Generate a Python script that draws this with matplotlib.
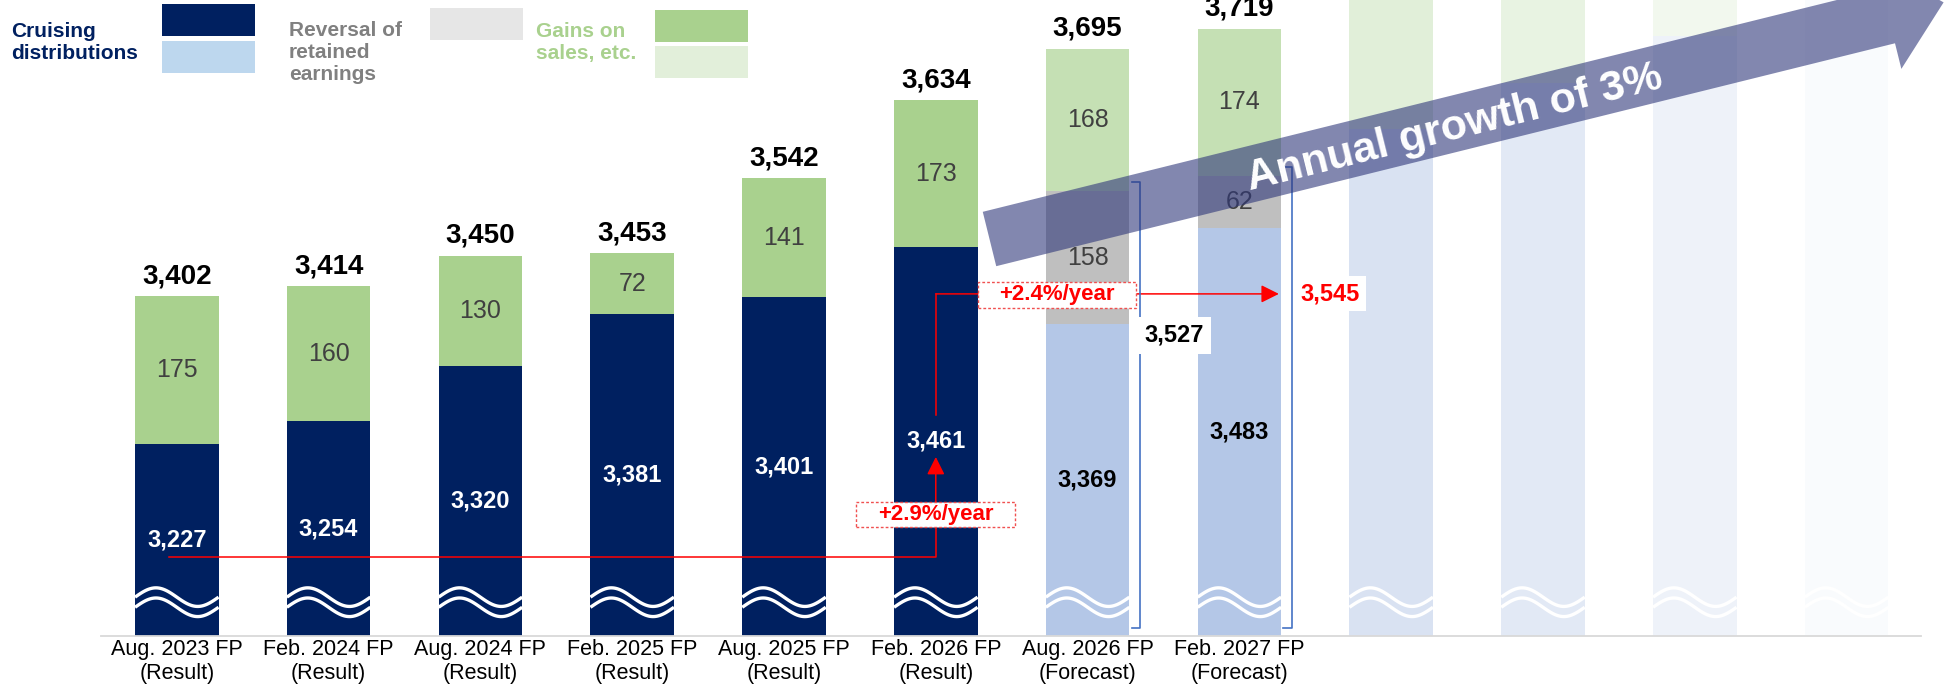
import matplotlib.pyplot as plt
import numpy as np
from matplotlib.patches import Polygon, Rectangle

plt.rcParams["font.family"] = ["Liberation Sans", "DejaVu Sans"]

periods = [
    "Aug. 2023 FP\n(Result)",
    "Feb. 2024 FP\n(Result)",
    "Aug. 2024 FP\n(Result)",
    "Feb. 2025 FP\n(Result)",
    "Aug. 2025 FP\n(Result)",
    "Feb. 2026 FP\n(Result)",
    "Aug. 2026 FP\n(Forecast)",
    "Feb. 2027 FP\n(Forecast)",
]
cruising = [3227, 3254, 3320, 3381, 3401, 3461, 3369, 3483]
reversal = [0, 0, 0, 0, 0, 0, 158, 62]
gains = [175, 160, 130, 72, 141, 173, 168, 174]
totals = [3402, 3414, 3450, 3453, 3542, 3634, 3695, 3719]
is_forecast = [False] * 6 + [True] * 2

# faded "future" bars on the right
future_base = [3600, 3655, 3710, 3765]
future_top = [3900, 3900, 3900, 3900]
future_alpha = [0.5, 0.38, 0.22, 0.07]

BASE = 3000
NAVY = "#002060"
GREEN = "#A9D18E"
LBLUE = "#B4C7E7"
LGREEN = "#C5E0B4"
GRAY = "#BFBFBF"
W, H = 1945, 699
PX = 0.8447  # pixels per unit on the y axis

fig = plt.figure(figsize=(W / 100, H / 100), dpi=100)
ax = fig.add_axes([0, 63 / H, 1, 636 / H])
ax.set_xlim(-176.8 / 151.8, (W - 176.8) / 151.8)
ax.set_ylim(BASE, BASE + 636 / PX)
for s in ax.spines.values():
    s.set_visible(False)
ax.set_yticks([])

bw = 0.55
x = np.arange(len(periods))
cru = np.array(cruising)
rev = np.array(reversal)
gai = np.array(gains)

c_main = [LBLUE if f else NAVY for f in is_forecast]
c_gain = [LGREEN if f else GREEN for f in is_forecast]
ax.bar(x, cru - BASE, bottom=BASE, width=bw, color=c_main, zorder=1)
ax.bar(x, rev, bottom=cru, width=bw, color=GRAY, zorder=1)
ax.bar(x, gai, bottom=cru + rev, width=bw, color=c_gain, zorder=1)

xf = np.arange(len(periods), len(periods) + len(future_base))
for xi, b, t, a in zip(xf, future_base, future_top, future_alpha):
    ax.bar(xi, b - BASE, bottom=BASE, width=bw, color=LBLUE, alpha=a, zorder=1)
    ax.bar(xi, t - b, bottom=b, width=bw, color=LGREEN, alpha=a, zorder=1)

# axis base line
ax.plot([-0.5, 11.49], [BASE, BASE], color="#D9D9D9", lw=1.3, clip_on=False, zorder=2)

# wavy break marks
t = np.linspace(0, 1, 60)
for xi in np.concatenate([x, xf]):
    for c in (3046, 3034):
        ax.plot(xi - bw / 2 + bw * t, c + 11 * np.sin(2 * np.pi * t),
                color="white", lw=2.4, solid_capstyle="butt", zorder=2)

# segment labels
for xi, c, r, g, tot, f in zip(x, cruising, reversal, gains, totals, is_forecast):
    ax.text(xi, (BASE + c) / 2, f"{c:,}", ha="center", va="center", fontsize=17,
            fontweight="bold", color="black" if f else "white", zorder=3)
    if r:
        ax.text(xi, c + r / 2, f"{r}", ha="center", va="center", fontsize=18,
                color="#404040", zorder=3)
    ax.text(xi, c + r + g / 2, f"{g}", ha="center", va="center", fontsize=18,
            color="#404040", zorder=3)
    ax.annotate(f"{tot:,}", (xi, tot), xytext=(0, 5), textcoords="offset points",
                ha="center", va="bottom", fontsize=20, fontweight="bold", zorder=3)

ax.set_xticks(x)
ax.set_xticklabels(periods, fontsize=15.5)
ax.tick_params(length=0, pad=2)

# red growth annotations
red = "#FF0000"
ax.plot([-0.05, 5, 5], [3093.5, 3093.5, 3150], color=red, lw=1.1, zorder=4)
ax.annotate("", xy=(5, 3212), xytext=(5, 3140),
            arrowprops=dict(arrowstyle="-|>", color=red, lw=1.1, mutation_scale=27,
                            shrinkA=0, shrinkB=0), zorder=4)
ax.plot([5, 5], [3261.7, 3405], color=red, lw=1.1, zorder=4)
ax.annotate("", xy=(7.26, 3405), xytext=(5, 3405),
            arrowprops=dict(arrowstyle="-|>", color=red, lw=1.1, mutation_scale=27,
                            shrinkA=0, shrinkB=0), zorder=4)
for cx, cy, w, h, label in [(5.0, 3144.4, 1.047, 29.6, "+2.9%/year"),
                            (5.798, 3403.7, 1.041, 30.8, "+2.4%/year")]:
    ax.add_patch(Rectangle((cx - w / 2, cy - h / 2), w, h, facecolor="white",
                           edgecolor="#F05050", lw=1, ls=(0, (2, 1.5)), zorder=5))
    ax.text(cx, cy, label, ha="center", va="center", fontsize=16, fontweight="bold",
            color=red, zorder=6)

# brackets
for xi, top in [(6, cruising[6] + reversal[6]), (7, cruising[7] + reversal[7])]:
    ax.plot([xi + 0.29, xi + 0.345, xi + 0.345, xi + 0.29],
            [3009, 3009, top + 10, top + 10], color="#4472C4", lw=1.2, zorder=7)
ax.text(6.569, 3356, "3,527", ha="center", va="center", fontsize=17,
        fontweight="bold", zorder=8,
        bbox=dict(boxstyle="square,pad=0.3", fc="white", ec="none"))
ax.text(7.60, 3405, "3,545", ha="center", va="center", fontsize=17,
        fontweight="bold", color=red, zorder=8,
        bbox=dict(boxstyle="square,pad=0.25", fc="white", ec="none"))

# big growth arrow (pixel geometry, y down)
th = np.arctan(0.248)
u = np.array([np.cos(th), -np.sin(th)])
n = np.array([np.sin(th), np.cos(th)])
tail = np.array([989.5, 239.0])
hh = 28
shape = [(0, -hh), (926, -hh), (926, -54.4), (983, 0), (926, 54.4), (926, hh), (0, hh)]
pts = [tail + a * u + p * n for a, p in shape]
pts = [(px / W, 1 - py / H) for px, py in pts]
fig.patches.append(Polygon(pts, closed=True, transform=fig.transFigure,
                           facecolor="#2F377A", alpha=0.6, edgecolor="none", zorder=6))
c = tail + 478 * u + 4 * n
fig.text(c[0] / W, 1 - c[1] / H, "Annual growth of 3%", rotation=np.degrees(th),
         rotation_mode="anchor", ha="center", va="center", fontsize=31,
         fontweight="bold", color="white", zorder=9)

# legend
def box(x0, y0, x1, y1, color):
    fig.patches.append(Rectangle((x0 / W, 1 - y1 / H), (x1 - x0) / W, (y1 - y0) / H,
                                 transform=fig.transFigure, facecolor=color,
                                 edgecolor="none"))

fig.text(11 / W, 1 - 42.5 / H, "Cruising\ndistributions", ha="left", va="center",
         fontsize=15, fontweight="bold", color=NAVY)
box(162, 4, 255, 36, NAVY)
box(162, 41, 255, 73, "#BDD7EE")
fig.text(289 / W, 1 - 53 / H, "Reversal of\nretained\nearnings", ha="left",
         va="center", fontsize=15, fontweight="bold", color="#808080")
box(430, 8, 523, 40, "#E6E6E6")
fig.text(536 / W, 1 - 42.5 / H, "Gains on\nsales, etc.", ha="left", va="center",
         fontsize=15, fontweight="bold", color=GREEN)
box(655, 10, 748, 42, GREEN)
box(655, 46, 748, 78, "#E2EFDA")

fig.savefig("out.png", dpi=100)
